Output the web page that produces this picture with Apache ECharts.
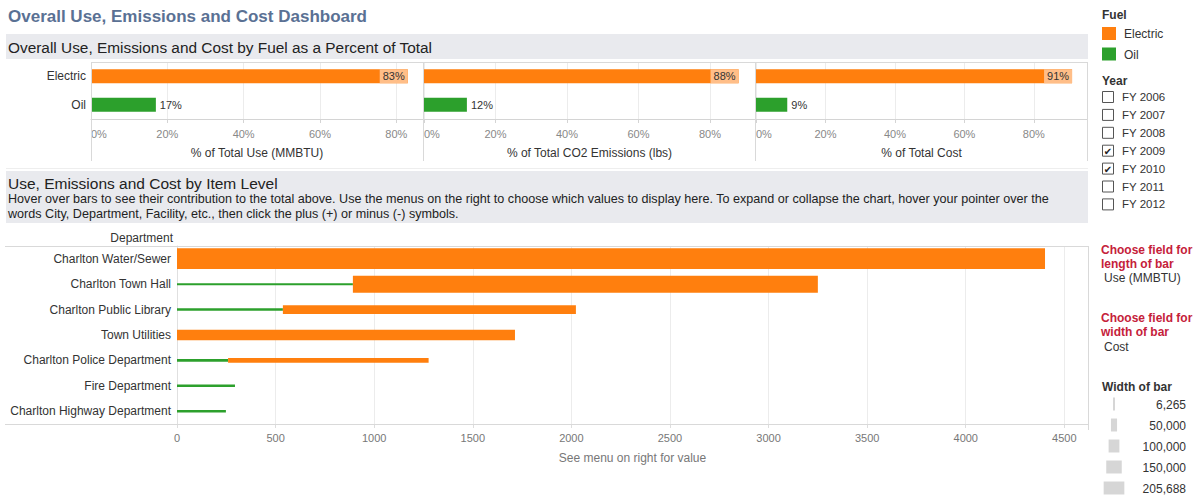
<!DOCTYPE html>
<html><head><meta charset="utf-8">
<script src="https://cdn.jsdelivr.net/npm/echarts@6/dist/echarts.min.js"></script>
<style>html,body{margin:0;padding:0;background:#fff}#c{width:1195px;height:497px}</style>
</head><body><div id="c"></div>
<script>
// ---------- data ----------
const fuels = ['Electric', 'Oil'];
const pctUse = [83, 17];
const pctCO2 = [88, 12];
const pctCost = [91, 9];
const panelTitles = ['% of Total Use (MMBTU)', '% of Total CO2 Emissions (lbs)', '% of Total Cost'];
const percentTickStep = 20;

const departments = ['Charlton Water/Sewer', 'Charlton Town Hall', 'Charlton Public Library', 'Town Utilities',
  'Charlton Police Department', 'Fire Department', 'Charlton Highway Department'];
const oilUse = [0, 892, 537, 0, 259, 294, 248];
const electricUse = [4402, 2358, 1486, 1714, 1017, 0, 0];
const oilCost = [0, 6265, 12000, 0, 14000, 12000, 12000];
const electricCost = [205688, 166000, 77700, 99000, 35100, 0, 0];
const useTickStep = 500;

const years = ['FY 2006', 'FY 2007', 'FY 2008', 'FY 2009', 'FY 2010', 'FY 2011', 'FY 2012'];
const yearChecked = [false, false, false, true, true, false, false];
const widthLegendValues = [6265, 50000, 100000, 150000, 205688];

// ---------- style ----------
const FONT = '"Liberation Sans", Arial, sans-serif';
const ORANGE = '#ff7f0e', GREEN = '#2ca02c', LIGHT_OR = '#ffbe88';
const fuelColors = [ORANGE, GREEN];
const costToPx = c => 1.41 + c * 9.38e-5;

const chart = echarts.init(document.getElementById('c'), null, { renderer: 'svg' });

const panelDefs = [
  { left: 91, width: 332, max: 87, data: pctUse },
  { left: 424, width: 331, max: 92.6, data: pctCO2 },
  { left: 756, width: 331, max: 95.3, data: pctCost }
];

const grids = [], xAxes = [], yAxes = [], series = [];
panelDefs.forEach((p, i) => {
  grids.push({ left: p.left, top: 62, width: p.width, height: 57, outerBoundsMode: 'none', containLabel: false });
  xAxes.push({
    type: 'value', gridIndex: i, min: 0, max: p.max, interval: percentTickStep,
    name: panelTitles[i], nameLocation: 'middle', nameGap: 28,
    nameTextStyle: { color: '#333', fontSize: 12, fontFamily: FONT },
    axisLine: { show: true, lineStyle: { color: '#d4d4d4' } },
    axisTick: { show: true, length: 4, lineStyle: { color: '#d4d4d4' } },
    axisLabel: { color: '#888', fontSize: 11, fontFamily: FONT, margin: 9, formatter: '{value}%', showMaxLabel: false, alignMinLabel: 'left' },
    splitLine: { show: true, lineStyle: { color: '#ececec' } }
  });
  yAxes.push({
    type: 'category', gridIndex: i, data: fuels, inverse: true,
    axisLine: { show: false }, axisTick: { show: false },
    axisLabel: { show: i === 0, color: '#333', fontSize: 12, fontFamily: FONT, margin: 5 }
  });
  series.push({
    type: 'bar', xAxisIndex: i, yAxisIndex: i, barWidth: 14, silent: true,
    data: p.data.map((v, k) => ({
      value: v,
      itemStyle: { color: fuelColors[k] },
      label: k === 0 ? {
        show: true, position: 'insideRight', distance: 0, formatter: '{c}%', color: '#333',
        fontSize: 11, fontFamily: FONT, backgroundColor: LIGHT_OR, padding: [1, 3, 1, 3], lineHeight: 12
      } : {
        show: true, position: 'right', distance: 4, formatter: '{c}%', color: '#333', fontSize: 11, fontFamily: FONT
      }
    }))
  });
});

// bottom chart
grids.push({ left: 177, top: 246, width: 911, height: 178, outerBoundsMode: 'none', containLabel: false });
xAxes.push({
  type: 'value', gridIndex: 3, min: 0, max: 4620, interval: useTickStep,
  name: 'See menu on right for value', nameLocation: 'middle', nameGap: 28,
  nameTextStyle: { color: '#777', fontSize: 12, fontFamily: FONT },
  axisLine: { show: true, lineStyle: { color: '#d4d4d4' } },
  axisTick: { show: true, length: 4, lineStyle: { color: '#dddddd' } },
  axisLabel: { color: '#777', fontSize: 11, fontFamily: FONT, margin: 8, showMaxLabel: false, formatter: v => String(v) },
  splitLine: { show: true, lineStyle: { color: '#ececec' } }
});
yAxes.push({
  type: 'category', gridIndex: 3, data: departments, inverse: true,
  axisLine: { show: true, lineStyle: { color: '#e0e0e0' } }, axisTick: { show: false },
  axisLabel: { color: '#333', fontSize: 12, fontFamily: FONT, margin: 6 }
});
const segs = [];
departments.forEach((d, i) => {
  if (oilUse[i] > 0) segs.push([0, oilUse[i], i, oilCost[i], 1]);
  if (electricUse[i] > 0) segs.push([oilUse[i], oilUse[i] + electricUse[i], i, electricCost[i], 0]);
});
series.push({
  type: 'custom', xAxisIndex: 3, yAxisIndex: 3, silent: true,
  encode: { x: [0, 1], y: 2 },
  data: segs,
  renderItem: (params, api) => {
    const s = api.coord([api.value(0), api.value(2)]);
    const e = api.coord([api.value(1), api.value(2)]);
    const h = costToPx(api.value(3));
    return { type: 'rect', shape: { x: s[0], y: s[1] - h / 2, width: e[0] - s[0], height: h },
      style: { fill: fuelColors[api.value(4)] } };
  }
});

// ---------- decorations / side panel ----------
const g = [];
const line = (x1, y1, x2, y2, c) => g.push({ type: 'line', silent: true, z: 5, shape: { x1, y1, x2, y2 }, style: { stroke: c || '#d9d9d9', lineWidth: 1 } });
const text = (x, y, t, o) => g.push({ type: 'text', x, y, z: 10, silent: true,
  style: Object.assign({ text: t, fill: '#333', fontSize: 12, fontFamily: FONT, textAlign: 'left', textVerticalAlign: 'middle' }, o || {}) });

text(8, 16, 'Overall Use, Emissions and Cost Dashboard', { fill: '#5a7194', fontSize: 17, fontWeight: 'bold' });
g.push({ type: 'rect', z: 0, silent: true, shape: { x: 6, y: 34, width: 1082, height: 25 }, style: { fill: '#e9eaee' } });
text(8, 47, 'Overall Use, Emissions and Cost by Fuel as a Percent of Total', { fontSize: 15.4, fill: '#222' });
line(91, 62.5, 1087, 62.5);
[91.5, 423.5, 755.5, 1087.5].forEach(x => line(x, 62, x, 161));
line(6, 168.5, 1088, 168.5, '#eeeeee');

g.push({ type: 'rect', z: 0, silent: true, shape: { x: 6, y: 171, width: 1082, height: 52 }, style: { fill: '#e9eaee' } });
text(8, 183, 'Use, Emissions and Cost by Item Level', { fontSize: 15.5, fill: '#222' });
text(8, 199, 'Hover over bars to see their contribution to the total above. Use the menus on the right to choose which values to display here. To expand or collapse the chart, hover your pointer over the', { fontSize: 12.6, fill: '#222' });
text(8, 214, 'words City, Department, Facility, etc., then click the plus (+) or minus (-) symbols.', { fontSize: 12.6, fill: '#222' });

text(173, 238, 'Department', { textAlign: 'right' });
line(5, 246.5, 1088, 246.5);
line(5, 424.5, 1088, 424.5);
line(1088.5, 246, 1088.5, 430);

// Fuel legend
text(1102, 15, 'Fuel', { fontWeight: 'bold' });
fuels.forEach((f, i) => {
  g.push({ type: 'rect', silent: true, z: 10, shape: { x: 1102, y: 27 + i * 20.5, width: 14, height: 13 }, style: { fill: fuelColors[i] } });
  text(1124, 34 + i * 20.5, f);
});
// Year filter
text(1102, 81, 'Year', { fontWeight: 'bold' });
years.forEach((y, i) => {
  const cy = 97 + i * 17.9;
  g.push({ type: 'rect', silent: true, z: 10, shape: { x: 1102.5, y: cy - 5.5, width: 11, height: 11 }, style: { fill: '#fff', stroke: '#555', lineWidth: 1 } });
  if (yearChecked[i]) text(1108, cy + 0.5, '✔', { textAlign: 'center', fontSize: 10, fontFamily: '"DejaVu Sans", sans-serif', fill: '#222' });
  text(1122, cy, y, { fontSize: 11.5 });
});
// field selectors
const RED = '#c5213a';
text(1101, 250, 'Choose field for', { fill: RED, fontWeight: 'bold' });
text(1101, 264, 'length of bar', { fill: RED, fontWeight: 'bold' });
text(1104, 278, 'Use (MMBTU)');
text(1101, 318, 'Choose field for', { fill: RED, fontWeight: 'bold' });
text(1101, 332, 'width of bar', { fill: RED, fontWeight: 'bold' });
text(1104, 347, 'Cost');
// width legend
text(1102, 387, 'Width of bar', { fontWeight: 'bold' });
widthLegendValues.forEach((v, i) => {
  const cy = 404 + i * 21;
  const w = costToPx(v);
  g.push({ type: 'rect', silent: true, z: 10, shape: { x: 1114 - w / 2, y: cy - 6.5, width: w, height: 13 }, style: { fill: '#d6d6d6' } });
  text(1186, cy + 1, v.toLocaleString('en-US'), { textAlign: 'right' });
});

chart.setOption({
  animation: false,
  backgroundColor: '#fff',
  textStyle: { fontFamily: FONT },
  grid: grids, xAxis: xAxes, yAxis: yAxes, series: series,
  graphic: { elements: g }
});
</script></body></html>
